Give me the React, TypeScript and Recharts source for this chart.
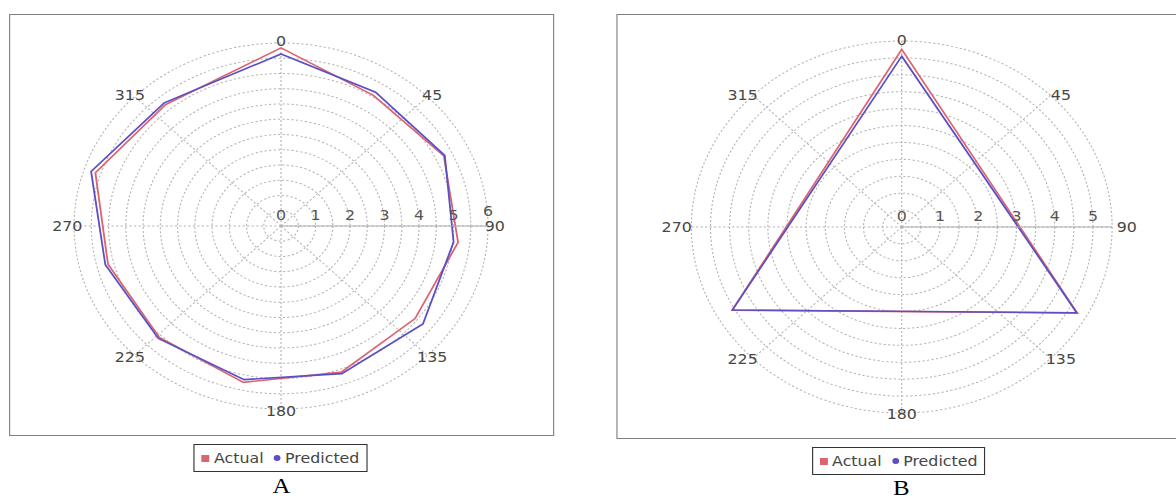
import React from 'react';
import { RadarChart, Radar, PolarGrid, PolarAngleAxis, PolarRadiusAxis, Legend } from 'recharts';

// ---- data ----
const angleTicks = [0, 45, 90, 135, 180, 225, 270, 315];

const anglesA = [0, 32, 64, 96, 128, 160, 192, 224, 256, 288, 320];
const actualA = [5.84, 5.05, 5.25, 5.16, 4.93, 5.1, 5.24, 5.08, 5.17, 5.66, 5.2];
const predictedA = [5.64, 5.17, 5.28, 5.03, 5.22, 5.15, 5.15, 5.12, 5.25, 5.79, 5.27];
const radiusTicksA = [0, 0.5, 1, 1.5, 2, 2.5, 3, 3.5, 4, 4.5, 5, 5.5, 6];

const anglesB = [0, 119, 241];
const actualB = [5.25, 5.25, 5.07];
const predictedB = [5.05, 5.23, 5.06];
const radiusTicksB = [0, 0.5, 1, 1.5, 2, 2.5, 3, 3.5, 4, 4.5, 5, 5.5];

const seriesNames = ['Actual', 'Predicted'];
const captions = ['A', 'B'];

// ---- styling ----
const FONT = '"DejaVu Sans", Verdana, sans-serif';
const RED = '#dc6470';
const BLUE = '#5a4fc6';
const STRETCH = 1.131;

const buildRows = (angles: number[], actual: number[], predicted: number[]) =>
  angles.map((a, i) => ({ angle: a, actual: actual[i], predicted: predicted[i] }));

const dataA = buildRows(anglesA, actualA, predictedA);
const dataB = buildRows(anglesB, actualB, predictedB);

const makeAngleTick = (ex: number, ey: number) => (props: any) => {
  const { x, y, payload } = props;
  const a = (Number(payload.value) * Math.PI) / 180;
  return (
    <text
      x={x + ex * Math.sin(a)}
      y={y - ey * Math.cos(a)}
      dy="0.36em"
      textAnchor="middle"
      fill="#474747"
      fontSize={14}
      fontFamily={FONT}
    >
      {payload.value}
    </text>
  );
};

const makeRadiusTick = (maxR: number) => (props: any) => {
  const { x, y, payload } = props;
  const v = Number(payload.value);
  if (!Number.isInteger(v)) return <g />;
  return (
    <text
      x={x}
      y={y - (v === maxR ? 10 : 6)}
      textAnchor="middle"
      fill="#555"
      fontSize={14}
      fontFamily={FONT}
    >
      {v}
    </text>
  );
};

const renderLegend = (props: any) => {
  const payload: any[] = props.payload || [];
  return (
    <div style={{ textAlign: 'center', lineHeight: 'normal' }}>
      <div
        style={{
          display: 'inline-flex',
          alignItems: 'center',
          border: '1px solid #333',
          height: 26,
          padding: '0 6px 0 6px',
          background: '#fff',
          fontFamily: FONT,
          fontSize: 14,
          color: '#454545',
        }}
      >
        {payload.map((p, i) => (
          <span
            key={i}
            style={{ display: 'inline-flex', alignItems: 'center', marginLeft: i ? 9 : 0 }}
          >
            <span
              style={{
                display: 'inline-block',
                width: p.type === 'circle' ? 6 : 7,
                height: p.type === 'circle' ? 6 : 7,
                borderRadius: p.type === 'circle' ? '50%' : 0,
                background: p.color,
                marginRight: 4,
              }}
            />
            {p.value}
          </span>
        ))}
      </div>
    </div>
  );
};

type PanelProps = {
  data: any[];
  radiusTicks: number[];
  maxR: number;
  left: number;
  width: number;
  cx: number;
  cy: number;
  outerRadius: number;
  ex: number;
  ey: number;
  legendTop: number;
  legendCenter: number;
};

const Panel = (p: PanelProps) => (
  <div style={{ position: 'absolute', left: p.left, top: 0 }}>
    <RadarChart
      width={p.width}
      height={499}
      data={p.data}
      cx={p.cx}
      cy={p.cy}
      innerRadius={0}
      outerRadius={p.outerRadius}
      margin={{ top: 0, right: 0, bottom: 0, left: 0 }}
    >
      <PolarGrid gridType="circle" stroke="#b4b4b4" strokeDasharray="2 2" />
      <PolarAngleAxis
        dataKey="angle"
        type="number"
        scale="linear"
        domain={[0, 360]}
        ticks={angleTicks as any}
        tickLine={false}
        axisLine={false}
        tick={makeAngleTick(p.ex, p.ey)}
      />
      <PolarRadiusAxis
        angle={0}
        type="number"
        domain={[0, p.maxR]}
        allowDataOverflow
        allowDecimals
        tickCount={p.radiusTicks.length}
        ticks={p.radiusTicks as any}
        tick={makeRadiusTick(p.maxR)}
        tickLine={false}
        axisLine={{ stroke: '#b0b0b0' }}
      />
      <Radar
        name={seriesNames[0]}
        dataKey="actual"
        stroke={RED}
        fill={RED}
        fillOpacity={0}
        strokeWidth={1.6}
        dot={false}
        legendType="square"
        isAnimationActive={false}
      />
      <Radar
        name={seriesNames[1]}
        dataKey="predicted"
        stroke={BLUE}
        fill={BLUE}
        fillOpacity={0}
        strokeWidth={1.6}
        dot={false}
        legendType="circle"
        isAnimationActive={false}
      />
      <Legend
        content={renderLegend}
        wrapperStyle={{ left: 0, top: p.legendTop, width: p.legendCenter * 2, height: 28, bottom: 'auto' }}
      />
    </RadarChart>
  </div>
);

export default function App() {
  return (
    <div
      style={{
        position: 'absolute',
        left: 0,
        top: 0,
        width: 1040,
        height: 499,
        overflow: 'hidden',
        background: '#fff',
        transform: `scaleX(${STRETCH})`,
        transformOrigin: '0 0',
      }}
    >
      {/* panel frames */}
      <div
        style={{
          position: 'absolute',
          left: 8,
          top: 14,
          width: 480,
          height: 420,
          border: '1px solid #808080',
        }}
      />
      <div
        style={{
          position: 'absolute',
          left: 545,
          top: 14,
          width: 520,
          height: 423,
          border: '1px solid #808080',
        }}
      />
      <Panel
        data={dataA}
        radiusTicks={radiusTicksA}
        maxR={6}
        left={0}
        width={520}
        cx={248.5}
        cy={226}
        outerRadius={183}
        ex={-2}
        ey={-5.7}
        legendTop={444}
        legendCenter={248}
      />
      <Panel
        data={dataB}
        radiusTicks={radiusTicksB}
        maxR={5.5}
        left={520}
        width={520}
        cx={277.3}
        cy={227}
        outerRadius={186}
        ex={5}
        ey={-7}
        legendTop={447}
        legendCenter={274.5}
      />
      {/* captions */}
      <div
        style={{
          position: 'absolute',
          left: 229,
          top: 475,
          width: 40,
          textAlign: 'center',
          fontFamily: '"Liberation Serif", "Times New Roman", serif',
          fontSize: 22,
          lineHeight: '22px',
          color: '#000',
        }}
      >
        {captions[0]}
      </div>
      <div
        style={{
          position: 'absolute',
          left: 777,
          top: 477,
          width: 40,
          textAlign: 'center',
          fontFamily: '"Liberation Serif", "Times New Roman", serif',
          fontSize: 22,
          lineHeight: '22px',
          color: '#000',
        }}
      >
        {captions[1]}
      </div>
    </div>
  );
}
